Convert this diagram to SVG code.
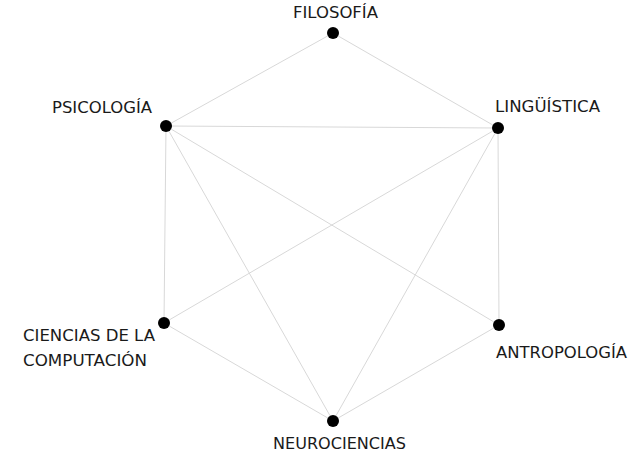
<svg xmlns="http://www.w3.org/2000/svg" width="644" height="452" viewBox="0 0 644 452">
<style>
.e{stroke:#d8d8d8;stroke-width:1;fill:none}
.n{fill:#000}
text{font-family:"DejaVu Sans","Open Sans",sans-serif;font-size:15px;fill:#1a1a1a}
</style>
<rect width="644" height="452" fill="#fff"/>
<g id="edges">
<line class="e" x1="333" y1="33" x2="166" y2="126"/>
<line class="e" x1="333" y1="33" x2="498" y2="128"/>
<line class="e" x1="166" y1="126" x2="498" y2="128"/>
<line class="e" x1="166" y1="126" x2="164" y2="323"/>
<line class="e" x1="166" y1="126" x2="333" y2="421"/>
<line class="e" x1="166" y1="126" x2="499" y2="325"/>
<line class="e" x1="498" y1="128" x2="164" y2="323"/>
<line class="e" x1="498" y1="128" x2="333" y2="421"/>
<line class="e" x1="498" y1="128" x2="499" y2="325"/>
<line class="e" x1="164" y1="323" x2="333" y2="421"/>
<line class="e" x1="333" y1="421" x2="499" y2="325"/>
</g>
<g id="filosofia"><circle class="n" cx="333" cy="33" r="6"/><text x="293" y="18" textLength="85" lengthAdjust="spacingAndGlyphs">FILOSOFÍA</text></g>
<g id="psicologia"><circle class="n" cx="166" cy="126" r="6"/><text x="52" y="113" textLength="100" lengthAdjust="spacingAndGlyphs">PSICOLOGÍA</text></g>
<g id="linguistica"><circle class="n" cx="498" cy="128" r="6"/><text x="495" y="112" textLength="105" lengthAdjust="spacingAndGlyphs">LINGÜÍSTICA</text></g>
<g id="ciencias"><circle class="n" cx="164" cy="323" r="6"/><text x="23" y="341" textLength="132" lengthAdjust="spacingAndGlyphs">CIENCIAS DE LA</text><text x="23" y="366" textLength="124" lengthAdjust="spacingAndGlyphs">COMPUTACIÓN</text></g>
<g id="antropologia"><circle class="n" cx="499" cy="325" r="6"/><text x="496" y="358" textLength="131" lengthAdjust="spacingAndGlyphs">ANTROPOLOGÍA</text></g>
<g id="neurociencias"><circle class="n" cx="333" cy="421" r="6"/><text x="273" y="449" textLength="133" lengthAdjust="spacingAndGlyphs">NEUROCIENCIAS</text></g>
</svg>
